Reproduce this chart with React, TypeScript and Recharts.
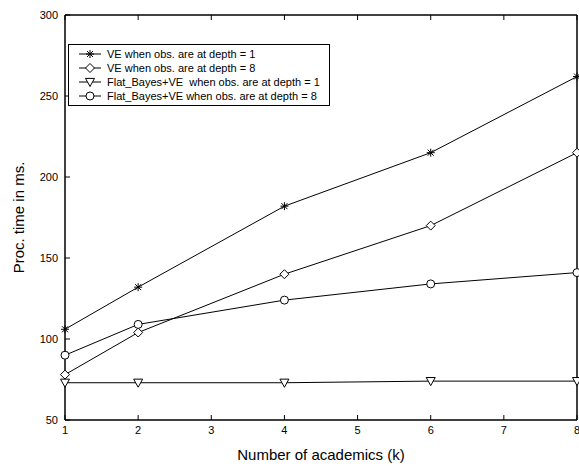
import { LineChart, Line, XAxis, YAxis, Label } from 'recharts'

const academics = [1, 2, 4, 6, 8]
const veDepth1 = [106, 132, 182, 215, 262]
const veDepth8 = [78, 104, 140, 170, 215]
const flatDepth1 = [73, 73, 73, 74, 74]
const flatDepth8 = [90, 109, 124, 134, 141]

const xTicks = [1, 2, 3, 4, 5, 6, 7, 8]
const yTicks = [50, 100, 150, 200, 250, 300]

const seriesNames = [
  'VE when obs. are at depth = 1',
  'VE when obs. are at depth = 8',
  'Flat_Bayes+VE  when obs. are at depth = 1',
  'Flat_Bayes+VE when obs. are at depth = 8',
]

const data = academics.map((k, i) => ({
  k,
  ve1: veDepth1[i],
  ve8: veDepth8[i],
  flat1: flatDepth1[i],
  flat8: flatDepth8[i],
}))

const FONT = 'Liberation Sans, Arial, Helvetica, sans-serif'

type MarkerKind = 'star' | 'diamond' | 'triangle' | 'circle'

function Marker({ kind, cx, cy }: { kind: MarkerKind; cx: number; cy: number }) {
  const s = 'black'
  if (kind === 'star') {
    const r = 4
    return (
      <g stroke={s} strokeWidth={1}>
        <line x1={cx - r} y1={cy} x2={cx + r} y2={cy} />
        <line x1={cx} y1={cy - r} x2={cx} y2={cy + r} />
        <line x1={cx - 3} y1={cy - 3} x2={cx + 3} y2={cy + 3} />
        <line x1={cx - 3} y1={cy + 3} x2={cx + 3} y2={cy - 3} />
      </g>
    )
  }
  if (kind === 'diamond') {
    const r = 4.5
    return (
      <polygon
        points={`${cx},${cy - r} ${cx + r},${cy} ${cx},${cy + r} ${cx - r},${cy}`}
        fill="white"
        stroke={s}
        strokeWidth={1}
      />
    )
  }
  if (kind === 'triangle') {
    const r = 4.5
    return (
      <polygon
        points={`${cx - r},${cy - r * 0.8} ${cx + r},${cy - r * 0.8} ${cx},${cy + r}`}
        fill="white"
        stroke={s}
        strokeWidth={1}
      />
    )
  }
  return <circle cx={cx} cy={cy} r={4} fill="white" stroke={s} strokeWidth={1} />
}

const dotFor = (kind: MarkerKind) => (props: any) => (
  <Marker key={`${kind}-${props.index}`} kind={kind} cx={props.cx} cy={props.cy} />
)

const kinds: MarkerKind[] = ['star', 'diamond', 'triangle', 'circle']

// no labels on the mirrored (top / right) axes, just inward ticks
const noLabel = () => <g />

function LegendBox() {
  return (
    <div
      style={{
        position: 'absolute',
        left: 68,
        top: 44,
        border: '1px solid black',
        background: 'white',
        padding: '2px 4px 2px 8px',
        fontFamily: FONT,
        fontSize: 11,
        lineHeight: '14px',
        width: 248,
      }}
    >
      {seriesNames.map((name, i) => (
        <div key={name} style={{ display: 'flex', alignItems: 'center', whiteSpace: 'pre' }}>
          <svg width={30} height={14} style={{ flexShrink: 0 }}>
            <line x1={2} y1={7} x2={24} y2={7} stroke="black" strokeWidth={1} />
            <Marker kind={kinds[i]} cx={13} cy={7} />
          </svg>
          <span>{name}</span>
        </div>
      ))}
    </div>
  )
}

const axisLine = { stroke: 'black', strokeWidth: 1.5 }

export default function App() {
  return (
    <div style={{ position: 'absolute', left: 0, top: 0, width: 579, height: 466, background: 'white' }}>
      <LineChart
        width={579}
        height={466}
        data={data}
        margin={{ top: 14, right: 1, bottom: 0, left: 0 }}
      >
        <XAxis
          xAxisId="b"
          dataKey="k"
          type="number"
          domain={[1, 8]}
          ticks={xTicks}
          height={46}
          tickSize={-5}
          tickMargin={11}
          stroke="black"
          axisLine={axisLine}
          tick={{ fill: 'black', fontSize: 11, fontFamily: FONT }}
          interval={0}
        >
          <Label
            content={({ viewBox }: any) => (
              <text
                x={viewBox.x + viewBox.width / 2}
                y={viewBox.y + 40}
                textAnchor="middle"
                fontSize={15}
                fontFamily={FONT}
                fill="black"
              >
                Number of academics (k)
              </text>
            )}
          />
        </XAxis>
        <XAxis
          xAxisId="t"
          orientation="top"
          dataKey="k"
          type="number"
          domain={[1, 8]}
          ticks={xTicks}
          height={1}
          tickSize={-5}
          tick={noLabel}
          stroke="black"
          axisLine={axisLine}
          interval={0}
        />
        <YAxis
          yAxisId="l"
          type="number"
          domain={[50, 300]}
          ticks={yTicks}
          width={65}
          tickSize={-5}
          tickMargin={12}
          stroke="black"
          axisLine={axisLine}
          tick={{ fill: 'black', fontSize: 11, fontFamily: FONT }}
          interval={0}
        >
          <Label
            content={({ viewBox }: any) => {
              const cx = viewBox.x + 18
              const cy = viewBox.y + viewBox.height / 2
              return (
                <text
                  x={cx}
                  y={cy}
                  transform={`rotate(-90, ${cx}, ${cy})`}
                  textAnchor="middle"
                  dominantBaseline="central"
                  fontSize={15}
                  fontFamily={FONT}
                  fill="black"
                >
                  Proc. time in ms.
                </text>
              )
            }}
          />
        </YAxis>
        <YAxis
          yAxisId="r"
          orientation="right"
          type="number"
          domain={[50, 300]}
          ticks={yTicks}
          width={1}
          tickSize={-5}
          tick={noLabel}
          stroke="black"
          axisLine={axisLine}
          interval={0}
        />
        {(['ve1', 've8', 'flat1', 'flat8'] as const).map((key, i) => (
          <Line
            key={key}
            xAxisId="b"
            yAxisId="l"
            dataKey={key}
            name={seriesNames[i]}
            stroke="black"
            strokeWidth={1}
            dot={dotFor(kinds[i])}
            activeDot={false}
            isAnimationActive={false}
          />
        ))}
      </LineChart>
      <LegendBox />
    </div>
  )
}
